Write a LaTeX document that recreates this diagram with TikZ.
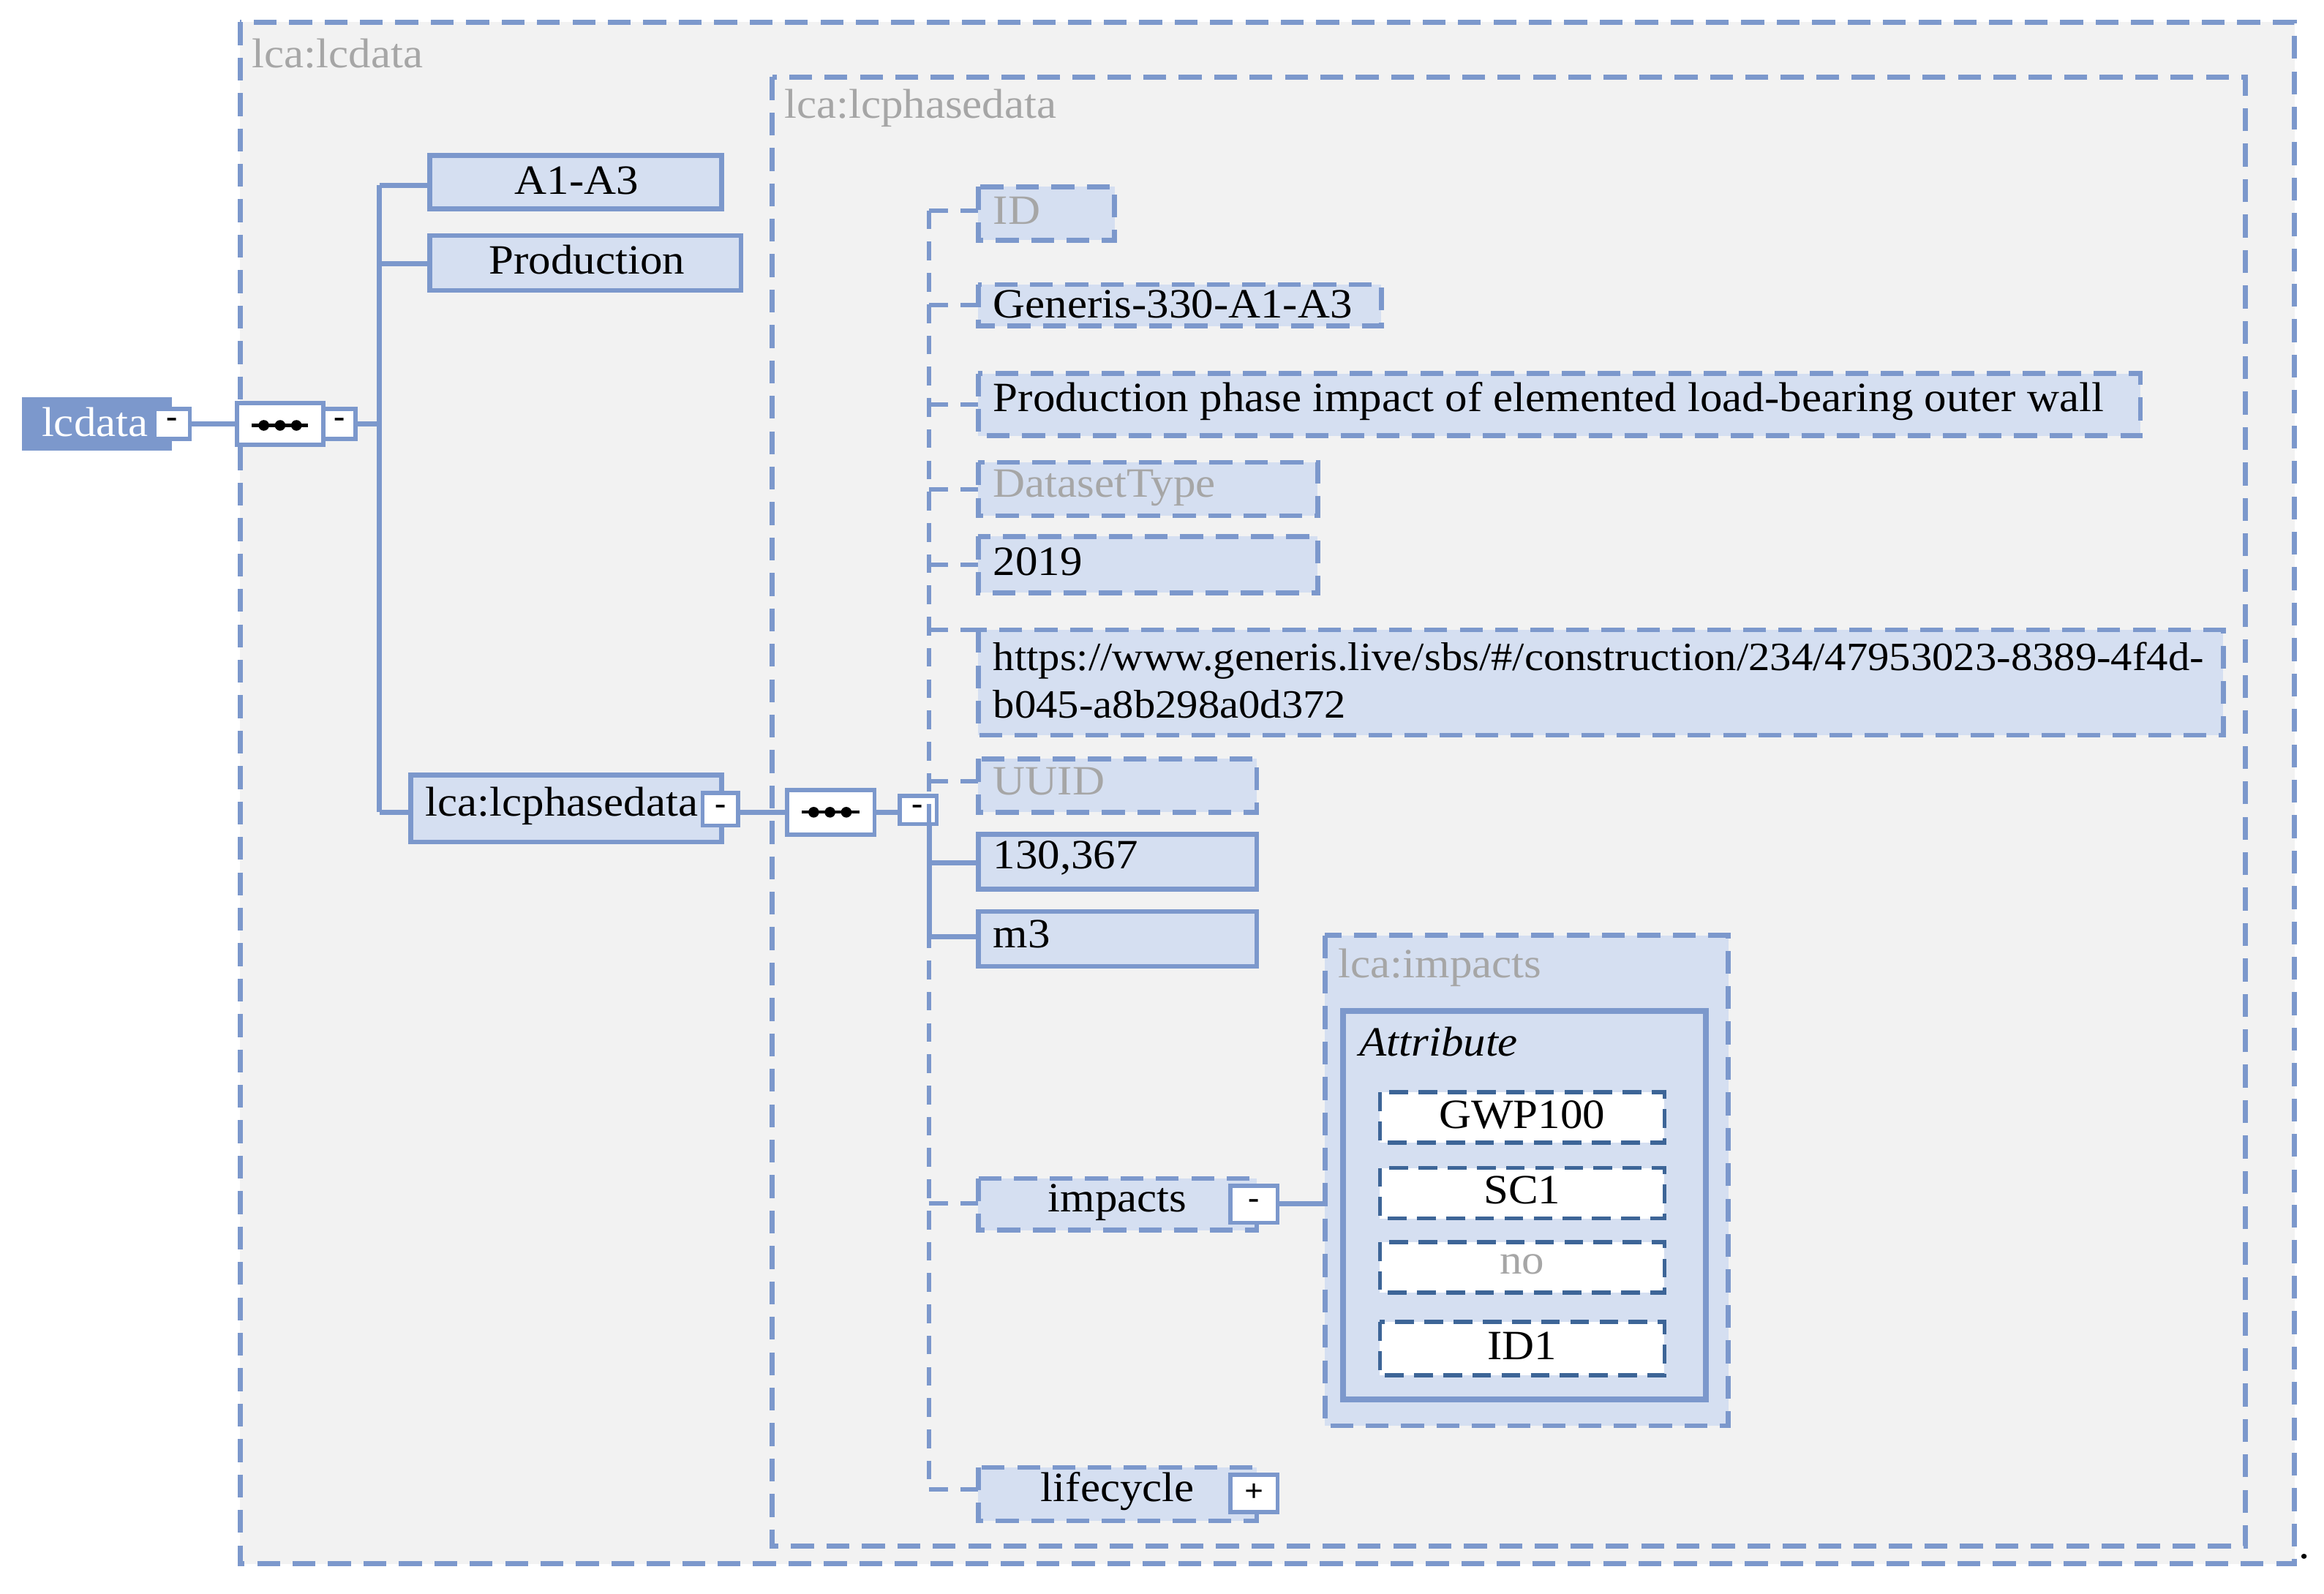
\documentclass[tikz,border=0pt]{standalone}
\usepackage{fontspec}
\setmainfont{Liberation Serif}[FakeStretch=1.07]
\begin{document}
\definecolor{bfill}{HTML}{D5DFF1}
\definecolor{bline}{HTML}{7C98CC}
\definecolor{dline}{HTML}{3D6597}
\definecolor{bg}{HTML}{F2F2F2}
\definecolor{gtxt}{HTML}{A6A6A6}
\begin{tikzpicture}[x=0.05cm,y=-0.05cm,
 dsh/.style={draw=bline,line width=4.6pt,dash pattern=on 22pt off 12pt},
 sol/.style={draw=bline,line width=4.6pt},
 item/.style={fill=bfill},
 txt/.style={font=\fontsize{40}{46}\selectfont,inner sep=0pt,anchor=west},
 gt/.style={txt,text=gtxt},
 con/.style={draw=bline,line width=5pt},
 dcon/.style={draw=bline,line width=4.2pt,dash pattern=on 18pt off 12pt},
 mini/.style={draw=bline,line width=4pt,fill=white},
 mt/.style={font=\fontsize{30}{30}\selectfont\bfseries,inner sep=0pt}]
\useasboundingbox (0,0) rectangle (1568,1075);
% outer
\path[dsh,fill=bg] (162,15) rectangle (1548,1055);
\node[gt] (l1) at (170,36) {lca:lcdata};
\path[dsh,fill=bg] (521,52) rectangle (1515,1043);
\node[gt] (l2) at (529,73) {lca:lcphasedata};
% root
\fill[bline] (15,268) rectangle (116,304);
\node[txt,text=white] (root) at (28,285) {lcdata};
\path[mini] (104,276) rectangle (128,296); \node[mt] at (116,285) {-};
\coordinate (r1) at (128,286); \coordinate (r2) at (160,286);
\draw[con] (r1) -- (r2);
\path[mini] (160,272) rectangle (218,300);
\draw[line width=3pt] (170,287) -- (208,287);
\foreach \x in {178,189,200} \fill (\x,287) circle (3.6);
\path[mini] (218,276) rectangle (240,296); \node[mt] at (229,285) {-};
\coordinate (v1) at (256,125); \coordinate (v2) at (256,548);
\draw[con] (240,286) -- (256,286);
\draw[con] (v1) -- (v2);
\draw[con] (256,125) -- (290,125);
\draw[con] (256,178) -- (290,178);
\draw[con] (256,548) -- (277,548);
\path[sol,item] (290,105) rectangle (487,141);
\node[txt,anchor=center] (a13) at (389,122) {A1-A3};
\path[sol,item] (290,159) rectangle (500,196);
\node[txt,anchor=center] (prod) at (396,175) {Production};
\path[sol,item] (277,523) rectangle (487,568);
\node[txt] (lcp) at (287,544) {lca:lcphasedata};
\path[mini] (474,535) rectangle (498,557); \node[mt] at (486,546) {-};
\draw[con] (498,548) -- (531,548);
\path[mini] (531,533) rectangle (590,563);
\draw[line width=3pt] (541,548) -- (580,548);
\foreach \x in {549,560,571} \fill (\x,548) circle (3.6);
\draw[con] (590,548) -- (607,548);
\path[mini] (607,537) rectangle (632,556); \node[mt] at (619,546) {-};
% vertical bus
\draw[dcon] (627,142) -- (627,1005);
\draw[con] (627,556) -- (627,632);
\foreach \y in {142,206,273,330,381,425,527,812,1005} \draw[dcon] (627,\y) -- (660,\y);
\draw[con] (627,582) -- (660,582);
\draw[con] (627,632) -- (660,632);
% items
\path[dsh,item] (660,126) rectangle (752,162); \node[gt] (id) at (670,142) {ID};
\path[dsh,item] (660,192) rectangle (932,220); \node[txt] (gen) at (670,205) {Generis-330-A1-A3};
\path[dsh,item] (660,252) rectangle (1444,294); \node[txt] (pp) at (670,271) {Production phase impact of elemented load-bearing outer wall};
\path[dsh,item] (660,312) rectangle (889,348); \node[gt] (dt) at (670,329) {DatasetType};
\path[dsh,item] (660,362) rectangle (889,400); \node[txt] (yr) at (670,379) {2019};
\path[dsh,item] (660,425) rectangle (1500,496);
\node[txt,font=\fontsize{38.5}{46}\selectfont,align=left] (url) at (670,459) {https://www.generis.live/sbs/\#/construction/234/47953023-8389-4f4d-\\b045-a8b298a0d372};
\path[dsh,item] (660,512) rectangle (848,548); \node[gt] (uuid) at (670,527) {UUID};
\path[sol,item] (660,563) rectangle (848,600); \node[txt] (num) at (670,579) {130,367};
\path[sol,item] (660,615) rectangle (848,652); \node[txt] (m3) at (670,630) {m3};
\path[dsh,item] (660,795) rectangle (848,830); \node[txt,anchor=center] (imp) at (754,811) {impacts};
\path[mini] (830,800) rectangle (862,825); \node[mt] at (846,812) {-};
\path[dsh,item] (660,990) rectangle (848,1026); \node[txt,anchor=center] (lc) at (754,1006) {lifecycle};
\path[mini] (830,995) rectangle (862,1020); \node[mt] at (846,1007) {+};
\draw[con] (862,812) -- (906,812);
% impacts
\path[dsh,item] (894,631) rectangle (1166,962);
\node[gt] (li) at (903,653) {lca:impacts};
\path[draw=bline,line width=5.5pt,fill=bfill] (906,682) rectangle (1151,944);
\node[txt,font=\fontsize{40}{46}\selectfont\itshape] (att) at (917,703) {Attribute};
\foreach \a/\b/\t/\c in {737/771/GWP100/black,788/822/SC1/black,838/872/no/gtxt,892/928/ID1/black}{
 \path[draw=dline,line width=4pt,dash pattern=on 18pt off 10pt,fill=white] (931,\a) rectangle (1123,\b);
 \node[txt,anchor=center,text=\c] at (1027,{(\a+\b)/2-2}) {\t};
}
\node[txt] (dot) at (1551,1050) {.};
\end{tikzpicture}
\end{document}
